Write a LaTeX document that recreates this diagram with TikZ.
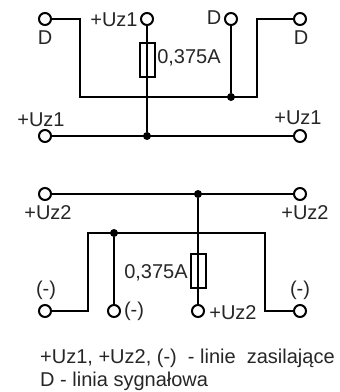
\documentclass[tikz,border=0pt]{standalone}
\usepackage{fontspec}
\setmainfont{Liberation Sans}
\tikzstyle{term}=[draw,line width=2pt,circle,minimum size=12pt,inner sep=0pt]
\tikzstyle{joint}=[fill,circle,minimum size=8pt,inner sep=0pt]
\tikzstyle{wire} = [draw,line width=2pt,-]
\tikzstyle{fuse} = [draw,line width=2pt,minimum width=15pt,minimum height=34pt,inner sep=0pt]
\tikzstyle{lbl} = [font=\fontsize{20}{20}\selectfont,inner sep=0pt,text=black!85]
\tikzstyle{note} = [font=\fontsize{20}{20}\selectfont,inner sep=0pt,anchor=west,text=black!85]

\begin{document}
\begin{tikzpicture}[x=1pt,y=-1pt]
    \useasboundingbox (0,0) rectangle (340,392);
    % First we draw the corners of the wires
    \foreach \pos/\name in {{(80,19)/a1}, {(80,97)/a2}, {(257,97)/a4}, {(257,19)/a5},
                            {(88,311)/b1}, {(88,233)/b2}, {(265,233)/b4}, {(265,311)/b5}}
        \node[coordinate] (\name) at \pos {};
    % Terminals and joints
    \foreach \pos/\name in {{(45,19)/t1}, {(147,19)/t2}, {(231,19)/t3}, {(300,19)/t4}, {(45,136)/t5}, {(300,136)/t6},
                            {(45,194)/t7}, {(300,194)/t8}, {(45,311)/t9}, {(114,311)/t10}, {(198,311)/t11}, {(300,311)/t12}}
        \node[term] (\name) at \pos {};
    \foreach \pos/\name in {{(231,97)/j1}, {(147,136)/j2}, {(198,194)/j3}, {(114,233)/j4}}
        \node[joint] (\name) at \pos {};
    % Connect everything with wires
    \path[wire] (t1) -- (a1) -- (a2) -- (a4) -- (a5) -- (t4);
    \path[wire] (t5) -- (t6);
    \path[wire] (t3) -- (j1);
    \path[wire] (t2) -- (j2);
    \path[wire] (t7) -- (t8);
    \path[wire] (t9) -- (b1) -- (b2) -- (b4) -- (b5) -- (t12);
    \path[wire] (j4) -- (t10);
    \path[wire] (j3) -- (t11);
    \node[fuse] (f1) at (147,60) {};
    \node[fuse] (f2) at (198,270.5) {};
    % Labels
    \foreach \pos/\name/\txt in {{(45,38)/l1/D}, {(114,20)/l2/+Uz1}, {(214,18)/l3/D}, {(301,38)/l4/D},
                                 {(41,120)/l5/+Uz1}, {(298,118)/l6/+Uz1}, {(189,58)/l7/{0,375A}},
                                 {(48,213)/l8/+Uz2}, {(305,213)/l9/+Uz2}, {(156,273)/l10/{0,375A}},
                                 {(46,290)/l11/(-)}, {(134,311)/l12/(-)}, {(233,313)/l13/+Uz2}, {(300,290)/l14/(-)}}
        \node[lbl] (\name) at \pos {\txt};
    \node[note] (n1) at (40,358) {+Uz1, +Uz2, (-)\ \ - linie\ \ zasilające};
    \node[note] (n2) at (40,381) {D - linia sygnałowa};
\end{tikzpicture}
\end{document}
